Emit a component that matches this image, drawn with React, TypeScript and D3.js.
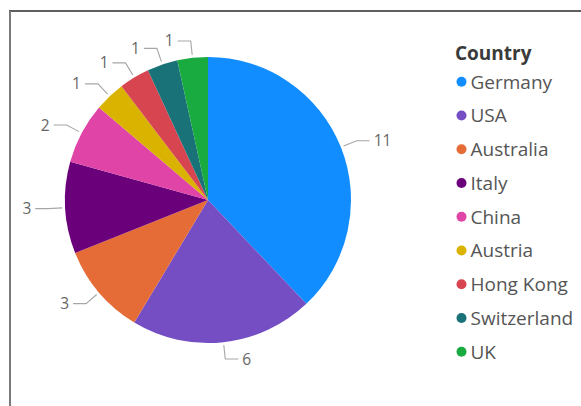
import React from "react";
import * as d3 from "d3";

const countries = ["Germany", "USA", "Australia", "Italy", "China", "Austria", "Hong Kong", "Switzerland", "UK"];
const counts = [11, 6, 3, 3, 2, 1, 1, 1, 1];
const colors = ["#118DFF", "#744EC2", "#E66C37", "#6B007B", "#E044A7", "#D9B300", "#D64550", "#197278", "#1AAB40"];
const legendTitle = "Country";

const W = 581;
const H = 406;
const cx = 208;
const cy = 200;
const R = 143;
const FONT = "'Open Sans', 'Noto Sans', sans-serif";

export default function App() {
  const data = countries.map((c, i) => ({ country: c, value: counts[i], color: colors[i] }));
  const pie = d3.pie<any>().value((d: any) => d.value).sort(null).startAngle(0).endAngle(2 * Math.PI);
  const arcs = pie(data);
  const arc = d3.arc<any>().innerRadius(0).outerRadius(R);

  const legendY = d3.scaleLinear().domain([0, countries.length - 1]).range([81.7, 351.7]);

  return (
    <div style={{ position: "fixed", left: 0, top: 0 }}>
      <svg width={W} height={H} style={{ display: "block", background: "#fff" }}>
        <line x1={9} x2={W} y1={11} y2={11} stroke="#2a2a2a" strokeWidth={1.6} />
        <line x1={10} x2={10} y1={11} y2={H} stroke="#7a7a7a" strokeWidth={2} />
        <g transform={`translate(${cx},${cy})`}>
          {arcs.map((a, i) => (
            <path key={i} d={arc(a) as string} fill={a.data.color} />
          ))}
          {arcs.map((a, i) => {
            const mid = (a.startAngle + a.endAngle) / 2;
            const sx = Math.sin(mid);
            const sy = -Math.cos(mid);
            const p0 = [sx * (R + 3), sy * (R + 3)];
            const p1 = [sx * (R + 17), sy * (R + 17)];
            const right = sx >= -0.05;
            const dir = right ? 1 : -1;
            const p2 = [p1[0] + dir * 13, p1[1]];
            return (
              <g key={"l" + i}>
                <polyline
                  points={`${p0[0]},${p0[1]} ${p1[0]},${p1[1]} ${p2[0]},${p2[1]}`}
                  fill="none"
                  stroke="#a6a6a6"
                  strokeWidth={1.1}
                />
                <text
                  x={p2[0] + dir * 4}
                  y={p2[1] + 5.5}
                  textAnchor={right ? "start" : "end"}
                  fontFamily={FONT}
                  fontSize={15.5}
                  fill="#666666"
                >
                  {a.data.value}
                </text>
              </g>
            );
          })}
        </g>
        <text x={455} y={60} fontFamily={FONT} fontWeight={700} fontSize={19} fill="#3a3a3a">
          {legendTitle}
        </text>
        {data.map((d, i) => (
          <g key={"g" + i}>
            <circle cx={461.5} cy={legendY(i)} r={5} fill={d.color} />
            <text x={470.5} y={legendY(i) + 6.8} fontFamily={FONT} fontSize={19} fill="#555555">
              {d.country}
            </text>
          </g>
        ))}
      </svg>
    </div>
  );
}
